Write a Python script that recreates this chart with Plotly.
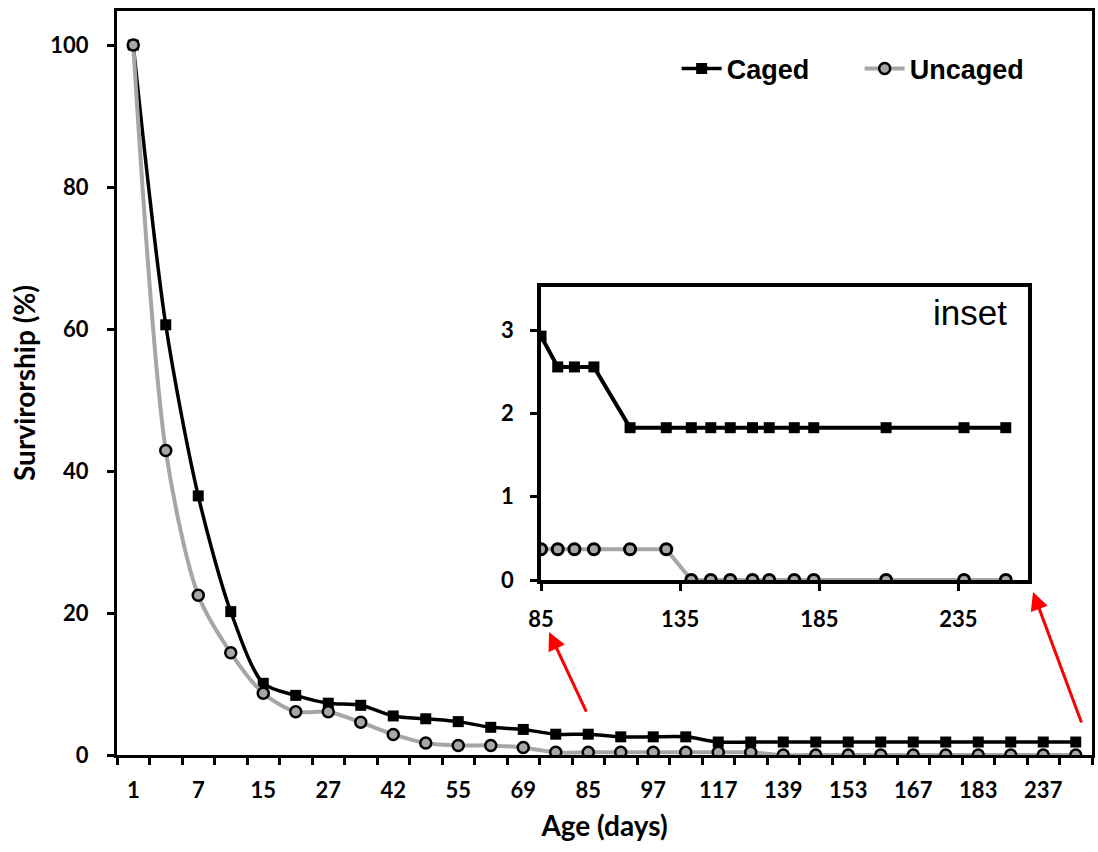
import plotly.graph_objects as go

# ---- data ----
ages = [1, 4, 7, 11, 15, 21, 27, 34, 42, 48, 55, 62, 69, 77, 85,
        91, 97, 104, 117, 130, 139, 146, 153, 161, 167, 176, 183, 209, 237, 252]
caged = [100, 60.6, 36.5, 20.2, 10.1, 8.4, 7.3, 7.0, 5.5, 5.1, 4.7, 3.9, 3.6, 2.93, 2.93,
         2.56, 2.56, 2.56, 1.83, 1.83, 1.83, 1.83, 1.83, 1.83, 1.83, 1.83, 1.83, 1.83, 1.83, 1.83]
uncaged = [100, 42.9, 22.5, 14.4, 8.7, 6.1, 6.1, 4.6, 2.9, 1.7, 1.35, 1.35, 1.05, 0.37, 0.37,
           0.37, 0.37, 0.37, 0.37, 0.37, 0, 0, 0, 0, 0, 0, 0, 0, 0, 0]
inset_start_age = 85
main_yticks = [0, 20, 40, 60, 80, 100]
inset_xticks = [85, 135, 185, 235]
inset_yticks = [0, 1, 2, 3]

idx = list(range(len(ages)))
label_idx = idx[::2]
label_txt = [str(ages[i]) for i in label_idx]
k0 = ages.index(inset_start_age)
in_ages = ages[k0:]
in_caged = caged[k0:]
in_uncaged = uncaged[k0:]

BLACK = "#000000"
GRAY = "#a6a6a6"
TF = "Lato"

fig = go.Figure()
fig.add_trace(go.Scatter(
    x=idx, y=caged, name="Caged", mode="lines+markers",
    line=dict(color=BLACK, width=3.5, shape="spline", smoothing=0.8),
    marker=dict(symbol="square", size=11, color=BLACK),
    xaxis="x", yaxis="y"))
fig.add_trace(go.Scatter(
    x=idx, y=uncaged, name="Uncaged", mode="lines+markers",
    line=dict(color=GRAY, width=4, shape="spline", smoothing=0.8),
    marker=dict(symbol="circle", size=11, color=GRAY, line=dict(color=BLACK, width=2.5)),
    xaxis="x", yaxis="y"))

# inset
fig.add_trace(go.Scatter(
    x=in_ages, y=in_caged, mode="lines+markers", showlegend=False,
    line=dict(color=BLACK, width=4),
    marker=dict(symbol="square", size=11, color=BLACK),
    xaxis="x2", yaxis="y2"))
fig.add_trace(go.Scatter(
    x=in_ages, y=in_uncaged, mode="lines+markers", showlegend=False,
    line=dict(color=GRAY, width=4),
    marker=dict(symbol="circle", size=11, color=GRAY, line=dict(color=BLACK, width=3)),
    xaxis="x2", yaxis="y2"))

tickfont = dict(family=TF, size=22, color=BLACK, weight="bold")
titlefont = dict(family=TF, size=28, color=BLACK, weight="bold")

fig.update_layout(
    width=1098, height=852,
    margin=dict(l=117, r=6, t=11, b=97, autoexpand=False),
    paper_bgcolor="white", plot_bgcolor="white",
    showlegend=True,
    legend=dict(orientation="h", x=0.574, y=0.922, xanchor="left", yanchor="middle",
                font=dict(family="Liberation Sans", size=27, color=BLACK, weight="bold"),
                bgcolor="rgba(0,0,0,0)", itemwidth=40, tracegroupgap=0,
                entrywidth=128, entrywidthmode="pixels"),
    xaxis=dict(
        domain=[0, 1], range=[-0.5, len(ages) - 0.5],
        tickmode="array", tickvals=label_idx, ticktext=label_txt,
        ticks="", tickfont=tickfont, ticklabelstandoff=14,
        minor=dict(tickmode="linear", tick0=-0.5, dtick=1, ticks="outside",
                   ticklen=7, tickwidth=2.5, tickcolor=BLACK),
        showline=True, linecolor=BLACK, linewidth=3, mirror=True,
        showgrid=False, zeroline=False,
        title=dict(text="Age (days)", font=titlefont, standoff=14)),
    yaxis=dict(
        domain=[0, 1], range=[0, 104.8],
        tickmode="array", tickvals=main_yticks,
        ticks="outside", ticklen=7, tickwidth=2.5, tickcolor=BLACK,
        tickfont=tickfont, ticklabelstandoff=14,
        showline=True, linecolor=BLACK, linewidth=3, mirror=True,
        showgrid=False, zeroline=False,
        title=dict(text="Survirorship (%)", font=titlefont, standoff=7)),
    xaxis2=dict(
        domain=[0.4349, 0.9344], anchor="y2", range=[85, 260],
        tickmode="array", tickvals=inset_xticks,
        ticks="outside", ticklen=7, tickwidth=2.5, tickcolor=BLACK,
        tickfont=tickfont, ticklabelstandoff=10,
        showline=True, linecolor=BLACK, linewidth=3.5, mirror=True,
        showgrid=False, zeroline=False),
    yaxis2=dict(
        domain=[0.2352, 0.629], anchor="x2", range=[0, 3.52],
        tickmode="array", tickvals=inset_yticks,
        ticks="outside", ticklen=7, tickwidth=2.5, tickcolor=BLACK,
        tickfont=tickfont, ticklabelstandoff=12,
        showline=True, linecolor=BLACK, linewidth=3.5, mirror=True,
        showgrid=False, zeroline=False),
)

fig.add_annotation(text="inset", xref="x2 domain", yref="y2 domain", x=0.96, y=0.985,
                   xanchor="right", yanchor="top", showarrow=False,
                   font=dict(family="Liberation Sans", size=35, color=BLACK))

# red arrows
fig.add_annotation(xref="paper", yref="paper", x=0.4431, y=0.1653, ax=38, ay=81,
                   text="", showarrow=True, arrowhead=2, arrowsize=1.2,
                   arrowwidth=3, arrowcolor="red")
fig.add_annotation(xref="paper", yref="paper", x=0.9395, y=0.2191, ax=49, ay=132,
                   text="", showarrow=True, arrowhead=2, arrowsize=1.2,
                   arrowwidth=3, arrowcolor="red")

fig.write_html("out.html")
